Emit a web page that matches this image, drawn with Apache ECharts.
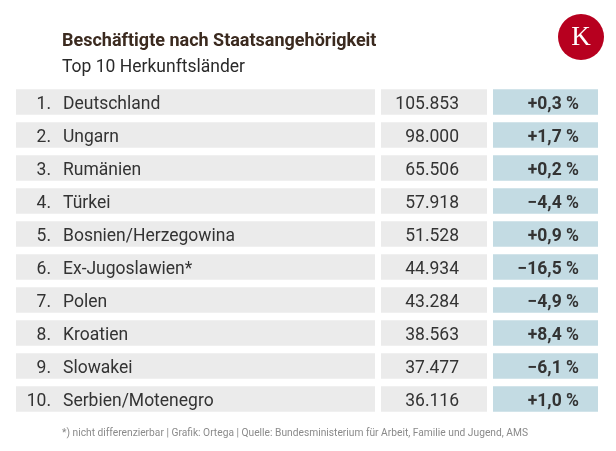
<!DOCTYPE html>
<html><head><meta charset="utf-8">
<script src="https://cdn.jsdelivr.net/npm/echarts@6/dist/echarts.min.js"></script>
<style>html,body{margin:0;padding:0;background:#fff}#c{width:616px;height:451px}</style>
</head><body><div id="c"></div>
<script>
const ranks = ['1.','2.','3.','4.','5.','6.','7.','8.','9.','10.'];
const countries = ['Deutschland','Ungarn','Rumänien','Türkei','Bosnien/Herzegowina','Ex-Jugoslawien*','Polen','Kroatien','Slowakei','Serbien/Motenegro'];
const employed = [105853, 98000, 65506, 57918, 51528, 44934, 43284, 38563, 37477, 36116];
const change = [0.3, 1.7, 0.2, -4.4, 0.9, -16.5, -4.9, 8.4, -6.1, 1.0];
const title = 'Beschäftigte nach Staatsangehörigkeit';
const subtitle = 'Top 10 Herkunftsländer';
const footnote = '*) nicht differenzierbar | Grafik: Ortega | Quelle: Bundesministerium für Arbeit, Familie und Jugend, AMS';

const fmtNum = v => String(v).replace(/\B(?=(\d{3})+(?!\d))/g, '.');
const fmtPct = v => (v < 0 ? '\u2212' : '+') + Math.abs(v).toFixed(1).replace('.', ',') + ' %';

const chart = echarts.init(document.getElementById('c'), null, {renderer: 'canvas'});
const FONT = 'Roboto';
const TXT = '#333333';
const GRAY = '#ebebeb';
const BLUE = '#c3dbe3';

chart.setOption({
  animation: false,
  grid: {left: 0, right: 0, top: 85.5, bottom: 35.5},
  xAxis: {type: 'value', min: 0, max: 616, show: false},
  yAxis: {type: 'category', data: countries, inverse: true, show: false},
  graphic: [
    {type: 'text', x: 62, y: 41, style: {text: title, font: 'bold 18px Roboto', fill: '#3b2a1f', verticalAlign: 'middle'}},
    {type: 'text', x: 62, y: 67.5, style: {text: subtitle, font: '17.5px Roboto', fill: '#2a2a2a', verticalAlign: 'middle'}},
    {type: 'circle', shape: {cx: 581, cy: 37, r: 23}, style: {fill: '#b7001f'}},
    {type: 'text', x: 581, y: 38, style: {text: 'K', font: '27px "Liberation Serif"', fill: '#fff', align: 'center', verticalAlign: 'middle'}},
    {type: 'text', x: 62, y: 433.5, scaleX: 0.93, style: {text: footnote, font: '11px Roboto', fill: '#8a8a8a', verticalAlign: 'middle'}}
  ],
  series: [{
    type: 'custom',
    data: countries.map((c, i) => [i]),
    encode: {y: 0},
    renderItem: function (params, api) {
      const i = api.value(0);
      const cy = api.coord([0, i])[1];
      const h = 25.5;
      const top = cy - h / 2;
      const ty = cy + 2.5;
      return {
        type: 'group',
        children: [
          {type: 'rect', shape: {x: 16, y: top, width: 359, height: h}, style: {fill: GRAY}},
          {type: 'rect', shape: {x: 381, y: top, width: 106, height: h}, style: {fill: GRAY}},
          {type: 'rect', shape: {x: 493, y: top, width: 105, height: h}, style: {fill: BLUE}},
          {type: 'text', style: {x: 51, y: ty, text: ranks[i], font: '17.5px ' + FONT, fill: TXT, align: 'right', verticalAlign: 'middle'}},
          {type: 'text', style: {x: 63, y: ty, text: countries[i], font: '17.5px ' + FONT, fill: TXT, align: 'left', verticalAlign: 'middle'}},
          {type: 'text', style: {x: 459, y: ty, text: fmtNum(employed[i]), font: '17.5px ' + FONT, fill: TXT, align: 'right', verticalAlign: 'middle'}},
          {type: 'text', style: {x: 579, y: ty, text: fmtPct(change[i]), font: 'bold 17.5px ' + FONT, fill: TXT, align: 'right', verticalAlign: 'middle'}}
        ]
      };
    }
  }]
});
</script></body></html>
